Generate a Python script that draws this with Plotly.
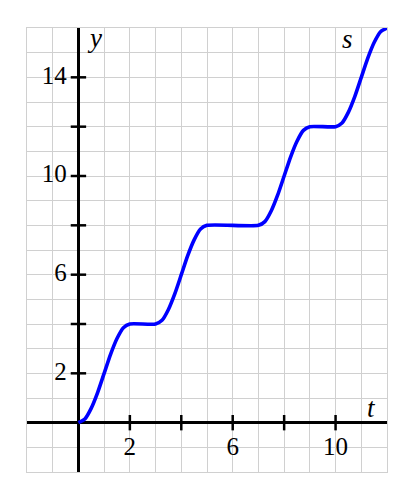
import plotly.graph_objects as go

# curve samples
t_vals = [0, 0.25, 0.5, 0.75, 1, 1.25, 1.5, 1.75, 2,
          3, 3.25, 3.5, 3.75, 4, 4.25, 4.5, 4.75, 5,
          7, 7.25, 7.5, 7.75, 8, 8.25, 8.5, 8.75, 9,
          10, 10.25, 10.5, 10.75, 11, 11.25, 11.5, 11.75, 12]
s_vals = [0, 0.15, 0.59, 1.23, 2.0, 2.77, 3.41, 3.85, 4.0,
          4.0, 4.15, 4.59, 5.23, 6.0, 6.77, 7.41, 7.85, 8.0,
          8.0, 8.15, 8.59, 9.23, 10.0, 10.77, 11.41, 11.85, 12.0,
          12.0, 12.15, 12.59, 13.23, 14.0, 14.77, 15.41, 15.85, 16.0]

x_tick_marks = [2, 4, 6, 8, 10]
y_tick_marks = [2, 4, 6, 8, 10, 12, 14]
x_tick_labels = [2, 6, 10]
y_tick_labels = [2, 6, 10, 14]

FONT = "Liberation Serif"

fig = go.Figure()

# tick marks crossing the axes
fig.add_trace(go.Scatter(x=x_tick_marks, y=[0]*len(x_tick_marks), mode="markers",
                         marker=dict(symbol="line-ns", size=11, line=dict(width=2.5, color="black")),
                         hoverinfo="skip", showlegend=False))
fig.add_trace(go.Scatter(x=[0]*len(y_tick_marks), y=y_tick_marks, mode="markers",
                         marker=dict(symbol="line-ew", size=11, line=dict(width=2.5, color="black")),
                         hoverinfo="skip", showlegend=False))

# curve
fig.add_trace(go.Scatter(x=t_vals, y=s_vals, mode="lines",
                         line=dict(color="#0000ff", width=3.6, shape="spline", smoothing=0.6),
                         hoverinfo="skip", showlegend=False))

# tick labels
fig.add_trace(go.Scatter(x=x_tick_labels, y=[-1.05]*len(x_tick_labels), mode="text",
                         text=[str(v) for v in x_tick_labels], textposition="middle center",
                         textfont=dict(family=FONT, size=25, color="black"),
                         hoverinfo="skip", showlegend=False))
fig.add_trace(go.Scatter(x=[-0.45]*len(y_tick_labels), y=y_tick_labels, mode="text",
                         text=[str(v) for v in y_tick_labels], textposition="middle left",
                         textfont=dict(family=FONT, size=25, color="black"),
                         hoverinfo="skip", showlegend=False))

fig.update_layout(
    width=409, height=492,
    margin=dict(l=19, r=30, t=20, b=28, autoexpand=False),
    plot_bgcolor="white", paper_bgcolor="white",
    xaxis=dict(range=[-2, 12], dtick=1, tick0=0, showgrid=True, gridcolor="#d0d0d0", gridwidth=1,
               showticklabels=False, ticks="", zeroline=True, zerolinecolor="black", zerolinewidth=3,
               showline=True, linecolor="#d0d0d0", linewidth=1, mirror=True, fixedrange=True),
    yaxis=dict(range=[-2, 16], dtick=1, tick0=0, showgrid=True, gridcolor="#d0d0d0", gridwidth=1,
               showticklabels=False, ticks="", zeroline=True, zerolinecolor="black", zerolinewidth=3,
               showline=True, linecolor="#d0d0d0", linewidth=1, mirror=True, fixedrange=True),
    annotations=[
        dict(x=0.25, y=15.6, text="<i>y</i>", showarrow=False, xanchor="left", yanchor="middle",
             font=dict(family=FONT, size=27, color="black")),
        dict(x=10.45, y=15.55, text="<i>s</i>", showarrow=False, xanchor="center", yanchor="middle",
             font=dict(family=FONT, size=27, color="black")),
        dict(x=11.4, y=0.6, text="<i>t</i>", showarrow=False, xanchor="center", yanchor="middle",
             font=dict(family=FONT, size=27, color="black")),
    ],
)

fig.write_html("out.html")
